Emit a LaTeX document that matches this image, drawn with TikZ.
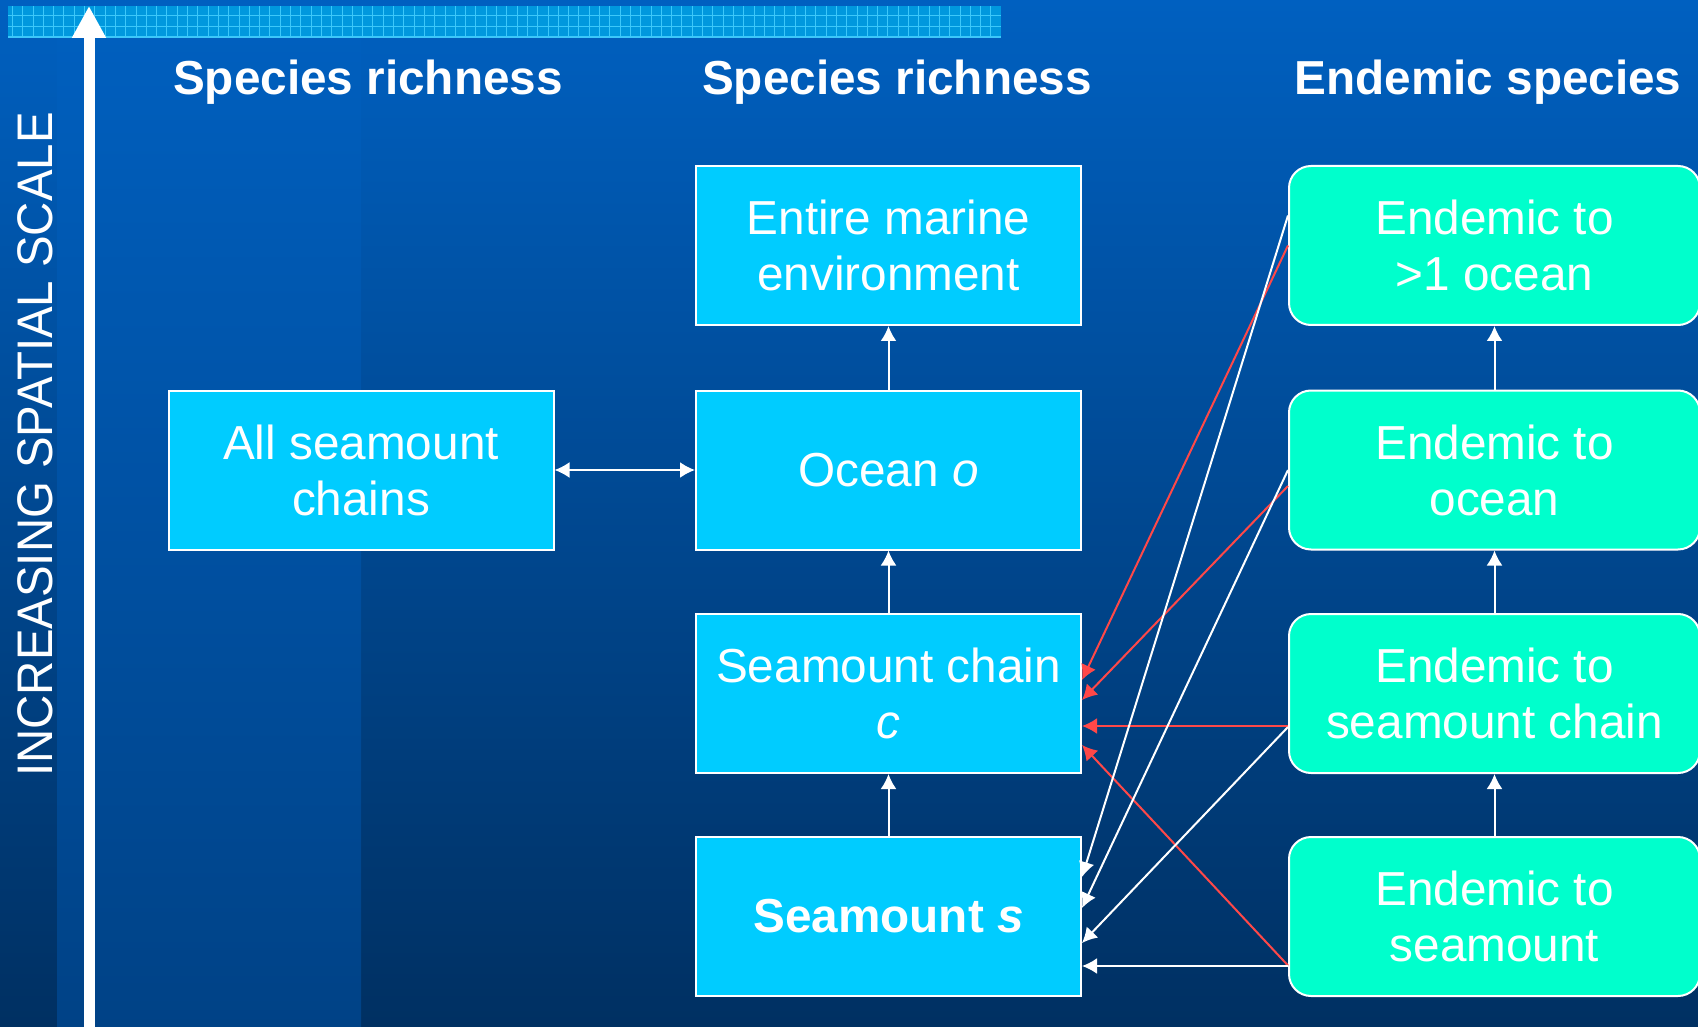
\documentclass[tikz,border=0pt]{standalone}
\usepackage{fontspec}
\setmainfont{Liberation Sans}
\usepackage{xcolor}
\usetikzlibrary{arrows.meta}

\definecolor{seatop}{RGB}{0,96,192}
\definecolor{seabottom}{RGB}{0,48,98}
\definecolor{stripbottom}{RGB}{0,66,134}
\definecolor{bandblue}{RGB}{0,152,222}
\definecolor{gridcyan}{RGB}{60,200,250}
\definecolor{boxcyan}{RGB}{0,204,255}
\definecolor{boxgreen}{RGB}{0,255,204}
\definecolor{linkred}{RGB}{255,72,72}

\newcommand{\boxfont}{\fontsize{23.85}{28}\selectfont}

\begin{document}
\begin{tikzpicture}[x=0.5pt,y=-0.5pt,>={Latex[length=7.5pt,width=8pt]},
    sbox/.style={draw=white,line width=1pt,fill=boxcyan,text=white,font=\boxfont,
        align=center,inner sep=0pt,minimum width=192.5pt,minimum height=79.5pt},
    ebox/.style={sbox,fill=boxgreen,rounded corners=11pt,minimum width=205.5pt},
    head/.style={text=white,font=\boxfont\bfseries,anchor=base,inner sep=0pt},
    link/.style={draw=white,line width=1pt,->},
    redlink/.style={link,draw=linkred,fill=linkred}]
        % draw the background
        \useasboundingbox (0,0) rectangle (1698,1027);
        \shade[top color=seatop,bottom color=seabottom] (0,0) rectangle (1698,1027);
        \shade[top color=seatop,bottom color=stripbottom] (57,0) rectangle (361,1027);

        % the title band
        \fill[bandblue] (8,6) rectangle (1001,37);
        \foreach \gx in {12.3,22.6,...,1000}
                \draw[gridcyan,line width=0.4pt] (\gx,6) -- (\gx,37);
        \foreach \gy in {15.5,26.5}
                \draw[gridcyan,line width=0.4pt] (8,\gy) -- (1001,\gy);
        \draw[gridcyan,line width=0.8pt] (8,37) -- (1001,37);

        % the scale arrow
        \draw[white,line width=5.5pt,-{Triangle[length=16pt,width=16pt]}] (89,1027) -- (89,6);
        \node[rotate=90,text=white,inner sep=0pt] (scale) at (35,444.5)
                {\scalebox{0.948}[1]{\fontsize{25}{30}\selectfont INCREASING SPATIAL SCALE}};

        % column heads
        \node[head] (h1) at (368,95) {Species richness};
        \node[head] (h2) at (897,95) {Species richness};
        \node[head] (h3) at (1488,95) {Endemic species};

        % species richness boxes
        \node[sbox] (all) at (361,470) {All seamount\\chains};
        \node[sbox] (env) at (888.5,245.5) {Entire marine\\environment};
        \node[sbox] (ocean) at (888.5,470) {Ocean \textit{o}};
        \node[sbox] (chain) at (888.5,693.5) {Seamount chain\\\textit{c}};
        \node[sbox,font=\boxfont\bfseries] (mount) at (888.5,916.5) {Seamount \textit{s}};

        % endemic boxes
        \node[ebox] (eb1) at (1494.5,245.5) {Endemic to\\>1 ocean};
        \node[ebox] (eb2) at (1494.5,470) {Endemic to\\ocean};
        \node[ebox] (eb3) at (1494.5,693.5) {Endemic to\\seamount chain};
        \node[ebox] (eb4) at (1494.5,916.5) {Endemic to\\seamount};

        % arrows up the columns
        \draw[link] (mount) -- (chain);
        \draw[link] (chain) -- (ocean);
        \draw[link] (ocean) -- (env);
        \draw[link,<->] (all) -- (ocean);
        \draw[link] (eb4) -- (eb3);
        \draw[link] (eb3) -- (eb2);
        \draw[link] (eb2) -- (eb1);

        % endemics to the seamount chain
        \draw[redlink] (eb1.west) -- ([yshift=6.75pt]chain.east);
        \draw[redlink] ([yshift=-8pt]eb2.west) -- ([yshift=-3.25pt]chain.east);
        \draw[redlink] ([yshift=-16.25pt]eb3.west) -- ([yshift=-16.25pt]chain.east);
        \draw[redlink] ([yshift=-24.5pt]eb4.west) -- ([yshift=-25.75pt]chain.east);

        % endemics to the seamount
        \draw[link] ([yshift=15pt]eb1.west) -- ([yshift=19.75pt]mount.east);
        \draw[link] (eb2.west) -- ([yshift=4.25pt]mount.east);
        \draw[link] ([yshift=-16.75pt]eb3.west) -- ([yshift=-13.25pt]mount.east);
        \draw[link] ([yshift=-24.75pt]eb4.west) -- ([yshift=-24.75pt]mount.east);
\end{tikzpicture}
\end{document}
